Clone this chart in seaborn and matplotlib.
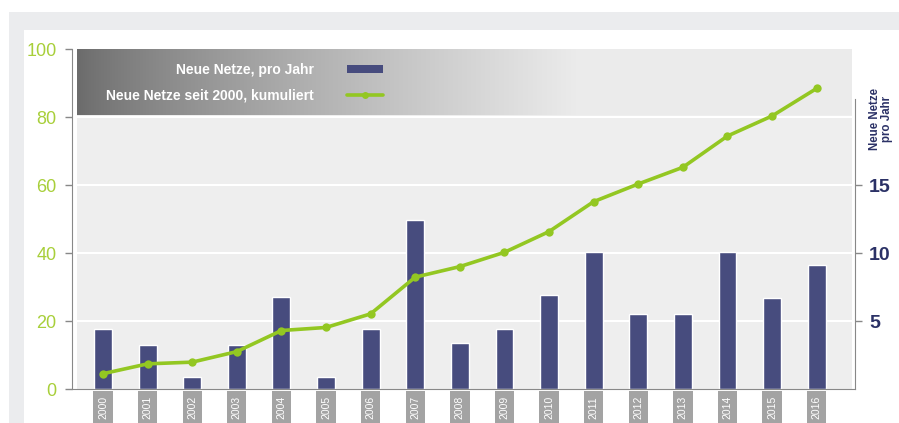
import numpy as np
import pandas as pd
import matplotlib
matplotlib.use("Agg")
import matplotlib.pyplot as plt
from matplotlib.patches import Rectangle, Patch
from matplotlib.lines import Line2D
import seaborn as sns

years = [str(y) for y in range(2000, 2017)]
neu_pro_jahr = [4.4, 3.2, 0.9, 3.2, 6.8, 0.9, 4.4, 12.4, 3.4, 4.4, 6.9, 10.1, 5.5, 5.5, 10.1, 6.7, 9.1]
kumuliert = [4.5, 7.4, 7.9, 11.0, 17.2, 18.1, 22.1, 32.9, 36.0, 40.2, 46.3, 55.1, 60.3, 65.2, 74.4, 80.3, 88.4]
left_ticks = [0, 20, 40, 60, 80, 100]
right_ticks = [5, 10, 15]
grid_vals = [20, 40, 60, 80]
label_bars = "Neue Netze, pro Jahr"
label_line = "Neue Netze seit 2000, kumuliert"
right_label = "Neue Netze\npro Jahr"

BAR = "#474c7e"
GREEN = "#93c722"
NAVY = "#2b3166"
TICKGREEN = "#a8cf3a"

sns.set_style("white")
plt.rcParams["font.family"] = ["Liberation Sans", "DejaVu Sans"]

fig = plt.figure(figsize=(8.99, 4.23), dpi=100)
W, H = 899, 423
# page background decorations
fig.patches.append(Rectangle((9 / W, 0), 15 / W, 1 - 12 / H, transform=fig.transFigure,
                             facecolor="#ebecee", edgecolor="none", zorder=0))
fig.patches.append(Rectangle((9 / W, 1 - 30 / H), 1 - 9 / W, 18 / H, transform=fig.transFigure,
                             facecolor="#ebecee", edgecolor="none", zorder=0))

ax = fig.add_axes([72 / W, 34 / H, 783 / W, 340 / H])
ax.set_facecolor("none")
df = pd.DataFrame({"Jahr": years, "neu": neu_pro_jahr, "kum": kumuliert, "idx": np.arange(len(years))})

# plot area background
ax.add_patch(Rectangle((5 / 783, 0), 775 / 783, 1, transform=ax.transAxes,
                       facecolor="#eeeeee", edgecolor="none", zorder=0))
# gradient legend band
grad = np.linspace(0, 1, 256)
vals = np.clip(grad / 0.65, 0, 1) ** 0.8
cols = np.array([0.42, 0.42, 0.42])[None, :] * (1 - vals[:, None]) + np.array([0.925, 0.925, 0.925])[None, :] * vals[:, None]
img = np.tile(cols[None, :, :], (2, 1, 1))
ax.imshow(img, extent=[5 / 783, 780 / 783, 1 - 66.5 / 340, 1], transform=ax.transAxes,
          aspect="auto", zorder=0.2, interpolation="bilinear")

sns.barplot(data=df, x="Jahr", y="neu", color=BAR, width=0.4, saturation=1, ax=ax, zorder=2)
for v in grid_vals:
    ax.axhline(v / 4, color="white", lw=1.5, zorder=0.5)

ax.set_ylim(0, 25)
ax.set_xlim(-0.695, 16.86)
ax.set_xlabel("")
ax.set_ylabel("")

ax2 = ax.twinx()
sns.lineplot(data=df, x="idx", y="kum", color=GREEN, lw=2.6, marker="o", markersize=6,
             markeredgewidth=0, ax=ax2, zorder=3)

# primary axis (bars): ticks on right
ax.yaxis.tick_right()
ax.yaxis.set_label_position("right")
ax.set_yticks(right_ticks)
ax.set_yticklabels([str(t) for t in right_ticks], fontsize=14, fontweight="bold", color=NAVY)
ax.tick_params(axis="y", direction="out", length=5, width=1, color="#888888", pad=5,
               left=False, labelleft=False, right=True, labelright=True)
for s in ["top", "left"]:
    ax.spines[s].set_visible(False)
ax.spines["right"].set_visible(True)
ax.spines["right"].set_bounds(0, 21.3)
ax.spines["right"].set_color("#888888")
ax.spines["bottom"].set_color("#888888")
ax.tick_params(axis="x", length=0, pad=5)
ax.set_xticks(np.arange(len(years)))
ax.set_xticklabels(years, rotation=90, fontsize=7.5, color="white",
                   family=["Liberation Sans Narrow", "Liberation Sans"], va="top")
for t in ax.get_xticklabels():
    t.set_bbox(dict(boxstyle="square,pad=0.45", facecolor="#a3a3a3", edgecolor="none"))

# twin axis (line): ticks on left
ax2.set_ylim(0, 100)
ax2.set_xlim(-0.695, 16.86)
ax2.yaxis.tick_left()
ax2.yaxis.set_label_position("left")
ax2.set_yticks(left_ticks)
ax2.set_yticklabels([str(t) for t in left_ticks], fontsize=13, color=TICKGREEN)
ax2.tick_params(axis="y", direction="out", length=5, width=1, color="#888888", pad=6,
                left=True, labelleft=True, right=False, labelright=False)
ax2.set_ylabel("")
ax2.set_xlabel("")
for s in ["top", "right", "bottom"]:
    ax2.spines[s].set_visible(False)
ax2.spines["left"].set_visible(True)
ax2.spines["left"].set_color("#888888")

fig.text(881 / W, 1 - 119 / H, right_label, rotation=90, ha="center", va="center",
         fontsize=8.3, fontweight="bold", color=NAVY, linespacing=1.0)

handles = [Patch(facecolor=BAR, edgecolor="none"),
           Line2D([], [], color=GREEN, lw=2.6, marker="o", markersize=5, markeredgewidth=0)]
leg = ax2.legend(handles, [label_bars, label_line], markerfirst=False, frameon=False,
                 loc="center right", bbox_to_anchor=(383 / W, 1 - 83 / H),
                 bbox_transform=fig.transFigure, borderpad=0, borderaxespad=0,
                 handlelength=2.6, handleheight=0.5, handletextpad=2.4, labelspacing=0.85,
                 prop={"family": ["Liberation Sans Narrow", "Liberation Sans"], "size": 10, "weight": "bold"},
                 labelcolor="white")

fig.savefig("out.png", dpi=100)
